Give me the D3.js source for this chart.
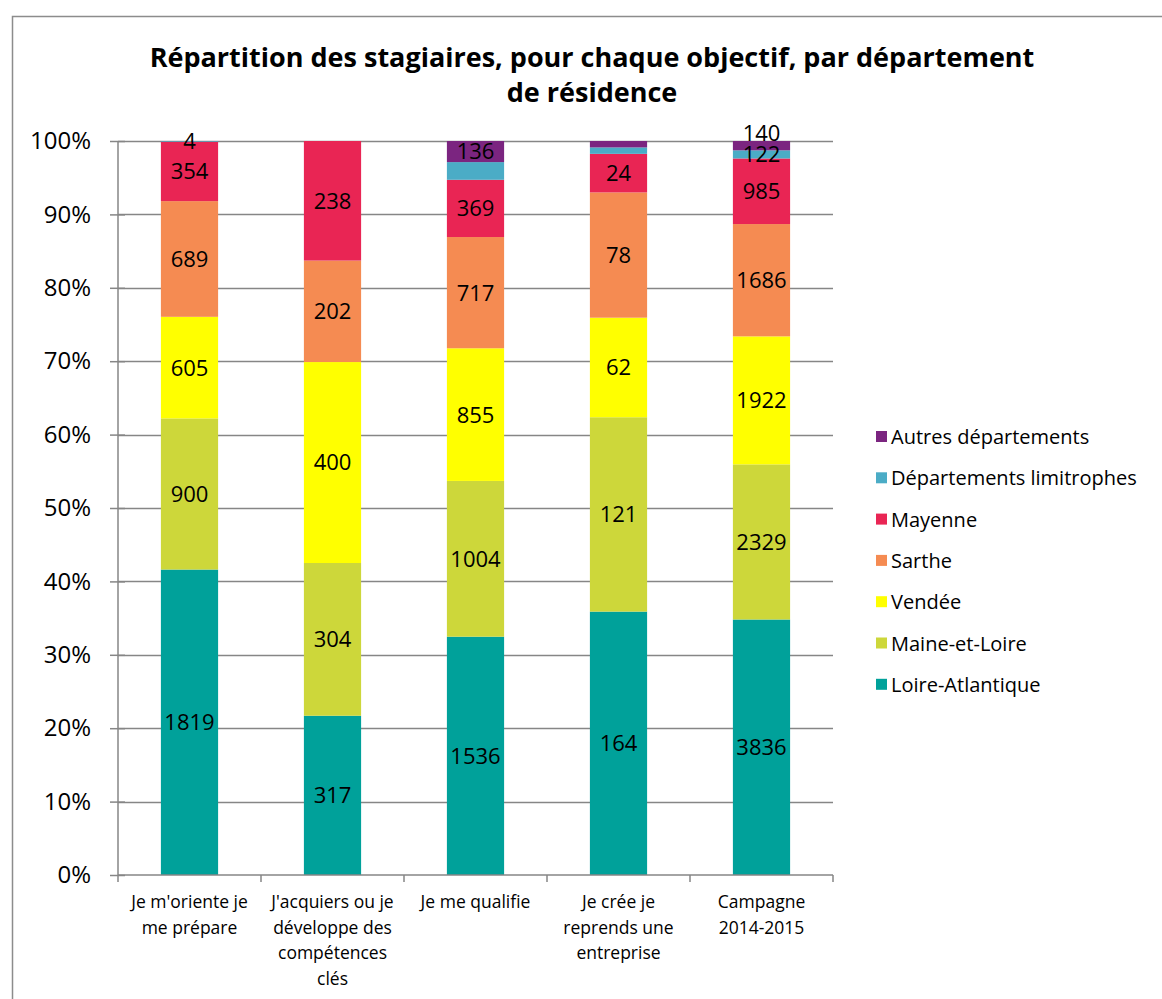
<!DOCTYPE html>
<html>
<head>
<meta charset="utf-8">
<script src="https://cdn.jsdelivr.net/npm/d3@7"></script>
<style>
  body { margin: 0; background: #fff; }
  svg { display: block; }
</style>
</head>
<body>
<svg id="chart" width="1162" height="999"></svg>
<script>
// categories (one line per wrapped row)
var categories = [
  ["Je m'oriente je", "me prépare"],
  ["J'acquiers ou je", "développe des", "compétences", "clés"],
  ["Je me qualifie"],
  ["Je crée je", "reprends une", "entreprise"],
  ["Campagne", "2014-2015"]
];
var seriesNames = ["Loire-Atlantique", "Maine-et-Loire", "Vendée", "Sarthe", "Mayenne", "Départements limitrophes", "Autres départements"];
var seriesColors = ["#00A19A", "#CDD73A", "#FFFF00", "#F58B52", "#E92554", "#4BACC6", "#7B2580"];
// one array per series, values per category
var loireAtlantique = [1819, 317, 1536, 164, 3836];
var maineEtLoire    = [900, 304, 1004, 121, 2329];
var vendee          = [605, 400, 855, 62, 1922];
var sarthe          = [689, 202, 717, 78, 1686];
var mayenne         = [354, 238, 369, 24, 985];
var limitrophes     = [4, 0, 114, 4, 122];
var autres          = [0, 0, 136, 4, 140];
var yTicks = [0, 0.1, 0.2, 0.3, 0.4, 0.5, 0.6, 0.7, 0.8, 0.9, 1];
var titleLines = ["Répartition des stagiaires, pour chaque objectif, par département", "de résidence"];

var allSeries = [loireAtlantique, maineEtLoire, vendee, sarthe, mayenne, limitrophes, autres];

var svg = d3.select("#chart");
var margin = {left: 118, right: 833, top: 141, bottom: 875};
var font = "'Open Sans', sans-serif";

// outer frame
svg.append("rect")
  .attr("x", 12.5).attr("y", 16.5)
  .attr("width", 1162).attr("height", 1000)
  .attr("fill", "none").attr("stroke", "#8c8c8c").attr("stroke-width", 1.5);

// title
svg.selectAll(".title").data(titleLines).enter()
  .append("text")
  .attr("class", "title")
  .attr("x", 592)
  .attr("y", function(d, i) { return 67 + i * 35; })
  .attr("text-anchor", "middle")
  .style("font-family", font)
  .style("font-weight", "bold")
  .style("font-size", "27px")
  .text(function(d) { return d; });

var x = d3.scaleBand()
  .domain(d3.range(categories.length))
  .range([margin.left, margin.right])
  .paddingInner(0.6).paddingOuter(0.3);
var xBand = d3.scaleBand()
  .domain(d3.range(categories.length))
  .range([margin.left, margin.right]);
var y = d3.scaleLinear().domain([0, 1]).range([margin.bottom, margin.top]);

// gridlines
svg.append("g").selectAll("line").data(yTicks.slice(1)).enter()
  .append("line")
  .attr("x1", margin.left).attr("x2", margin.right)
  .attr("y1", function(d) { return Math.round(y(d)) + 0.5; })
  .attr("y2", function(d) { return Math.round(y(d)) + 0.5; })
  .attr("stroke", "#868686").attr("stroke-width", 1.5);

// stacked percentages
var rows = categories.map(function(c, i) {
  var row = {idx: i};
  seriesNames.forEach(function(s, j) { row[s] = allSeries[j][i]; });
  return row;
});
var stack = d3.stack().keys(seriesNames).offset(d3.stackOffsetExpand);
var layers = stack(rows);

var layerG = svg.append("g").selectAll("g").data(layers).enter()
  .append("g")
  .attr("fill", function(d, i) { return seriesColors[i]; });

layerG.selectAll("rect").data(function(d) { return d; }).enter()
  .append("rect")
  .attr("x", function(d) { return x(d.data.idx); })
  .attr("width", x.bandwidth())
  .attr("y", function(d) { return y(d[1]); })
  .attr("height", function(d) { return y(d[0]) - y(d[1]); });

// axes
var yAxis = svg.append("g")
  .attr("transform", "translate(" + margin.left + ",0)")
  .call(d3.axisLeft(y).tickValues(yTicks).tickFormat(d3.format(".0%")).tickSize(8).tickPadding(19));
yAxis.selectAll("path, line").attr("stroke", "#868686").attr("stroke-width", 1.5);
yAxis.selectAll(".tick line").attr("x1", 7); // cross ticks
yAxis.selectAll("text")
  .style("font-family", font)
  .style("font-size", "24px")
  .attr("fill", "#000");
yAxis.select(".domain").attr("d", "M0," + margin.top + "V" + margin.bottom);

var xAxis = svg.append("g")
  .attr("transform", "translate(0," + margin.bottom + ")");
xAxis.append("line")
  .attr("x1", margin.left).attr("x2", margin.right)
  .attr("stroke", "#868686").attr("stroke-width", 1.5);
xAxis.selectAll(".tick").data(d3.range(categories.length + 1)).enter()
  .append("line")
  .attr("x1", function(d) { return margin.left + d * xBand.bandwidth(); })
  .attr("x2", function(d) { return margin.left + d * xBand.bandwidth(); })
  .attr("y1", 0).attr("y2", 7)
  .attr("stroke", "#868686").attr("stroke-width", 1.5);

var catLabels = svg.append("g").selectAll("text").data(categories).enter()
  .append("text")
  .attr("text-anchor", "middle")
  .style("font-family", font)
  .style("font-size", "17.5px")
  .attr("fill", "#000");
catLabels.selectAll("tspan").data(function(d, i) { return d.map(function(t) { return {t: t, i: i}; }); }).enter()
  .append("tspan")
  .attr("x", function(d) { return xBand(d.i) + xBand.bandwidth() / 2; })
  .attr("y", function(d, k) { return 908 + k * 25.5; })
  .text(function(d) { return d.t; });

// data labels (small segments the original leaves unlabelled)
var hiddenLabels = [[2, 5], [3, 5], [3, 6]];
var labelData = [];
layers.forEach(function(layer, j) {
  layer.forEach(function(d, i) {
    var v = allSeries[j][i];
    var hidden = hiddenLabels.some(function(h) { return h[0] === i && h[1] === j; });
    if (v > 0 && !hidden) labelData.push({v: v, i: i, j: j, mid: (d[0] + d[1]) / 2});
  });
});
svg.append("g").selectAll("text").data(labelData).enter()
  .append("text")
  .attr("x", function(d) { return x(d.i) + x.bandwidth() / 2; })
  .attr("y", function(d) {
    var yy = y(d.mid);
    // the campaign "Autres" label sits above the bar to keep clear of the next one
    if (d.i === 4 && d.j === 6) yy -= 13;
    return yy;
  })
  .attr("dy", "0.36em")
  .attr("text-anchor", "middle")
  .style("font-family", font)
  .style("font-size", "22px")
  .attr("fill", "#000")
  .text(function(d) { return d.v; });

// legend (top entry is the last series)
var legendItems = seriesNames.map(function(s, i) { return {name: s, color: seriesColors[i]}; }).reverse();
var legend = svg.append("g").selectAll("g").data(legendItems).enter()
  .append("g")
  .attr("transform", function(d, i) { return "translate(876," + (437 + i * 41.3) + ")"; });
legend.append("rect")
  .attr("x", 0).attr("y", -6).attr("width", 11).attr("height", 11)
  .attr("fill", function(d) { return d.color; });
legend.append("text")
  .attr("x", 15).attr("dy", "0.35em")
  .style("font-family", font)
  .style("font-size", "20px")
  .attr("fill", "#000")
  .text(function(d) { return d.name; });
</script>
</body>
</html>
